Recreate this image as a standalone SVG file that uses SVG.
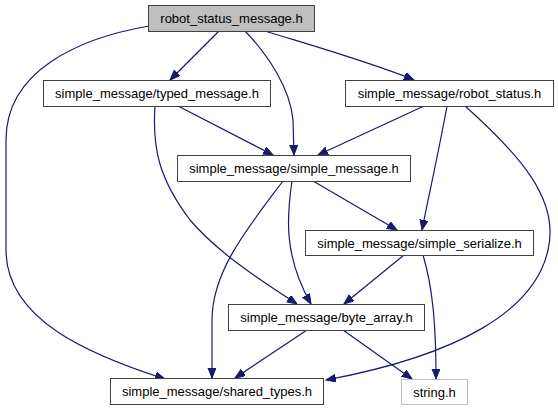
<svg xmlns="http://www.w3.org/2000/svg" width="558" height="411" viewBox="0 0 558 411">
<style>
.n rect{fill:#fff;stroke:#404040;stroke-width:1}
.n text{font-family:"Liberation Sans",Arial,sans-serif;font-size:13px;text-anchor:middle;fill:#000}
#edges path{fill:none;stroke:#191970;stroke-width:1.2;marker-end:url(#ah)}
</style>
<defs>
<marker id="ah" markerUnits="userSpaceOnUse" markerWidth="11" markerHeight="9" refX="10" refY="4" orient="auto">
<path d="M0,0 L10,4 L0,8 z" fill="#191970" stroke="#191970" stroke-width="1"/>
</marker>
</defs>
<rect width="558" height="411" fill="#fff"/>
<g id="edges">
<path d="M219,31 L170,80"/>
<path d="M265,31 C310,45 370,62 414,80"/>
<path d="M245,31 C268,55 290,88 293,120 L294,155"/>
<path d="M149,26 C80,38 6,70 6,140 L6,250 C6,320 90,355 165,379"/>
<path d="M178,106 L273,155"/>
<path d="M155,106 C152,150 160,180 190,220 C220,255 265,283 297,304"/>
<path d="M424,106 L318,155"/>
<path d="M447,106 C440,145 430,190 422,230"/>
<path d="M465,106 C520,155 560,200 548,250 C535,310 460,355 326,380"/>
<path d="M283,181 C250,225 212,270 212,320 L212,378"/>
<path d="M292,181 C287,215 283,255 311,304"/>
<path d="M313,181 L397,230"/>
<path d="M404,255 L344,304"/>
<path d="M423,255 C432,285 436,320 436,379"/>
<path d="M307,330 L235,378"/>
<path d="M343,330 L412,379"/>
</g>
<g id="robot_status_message" class="n"><rect x="148.5" y="5.5" width="166" height="26" style="fill:#bfbfbf"/><text x="231.5" y="23">robot_status_message.h</text></g>
<g id="typed_message" class="n"><rect x="43.5" y="80.5" width="227" height="26"/><text x="157" y="98">simple_message/typed_message.h</text></g>
<g id="robot_status" class="n"><rect x="345.5" y="80.5" width="208" height="26"/><text x="449.5" y="98">simple_message/robot_status.h</text></g>
<g id="simple_message" class="n"><rect x="177.5" y="155.5" width="233" height="26"/><text x="294" y="173">simple_message/simple_message.h</text></g>
<g id="simple_serialize" class="n"><rect x="305.5" y="230.5" width="228" height="25"/><text x="419.5" y="248">simple_message/simple_serialize.h</text></g>
<g id="byte_array" class="n"><rect x="228.5" y="304.5" width="196" height="26"/><text x="326.5" y="322">simple_message/byte_array.h</text></g>
<g id="shared_types" class="n"><rect x="110.5" y="378.5" width="213" height="26"/><text x="217" y="396">simple_message/shared_types.h</text></g>
<g id="string_h" class="n"><rect x="401.5" y="379.5" width="66" height="25" style="stroke:#bfbfbf"/><text x="434.5" y="397">string.h</text></g>
</svg>
